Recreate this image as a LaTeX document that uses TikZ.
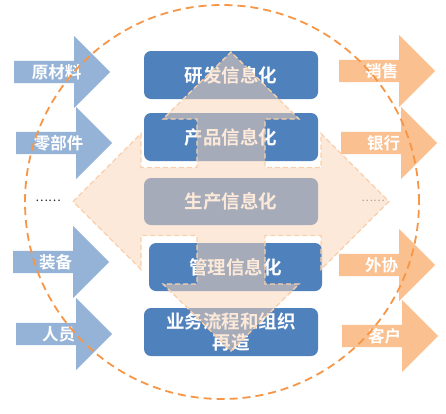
\documentclass[tikz,border=0pt]{standalone}
\usepackage{fontspec}
\newfontfamily\cjk{Noto Sans CJK SC}[BoldFont={Noto Sans CJK SC Bold}]
\usepackage{tikz}
\definecolor{infoblue}{RGB}{79,129,189}
\definecolor{inblue}{RGB}{149,179,215}
\definecolor{outorange}{RGB}{250,192,144}
\definecolor{ringorange}{RGB}{247,150,70}
\definecolor{crosspeach}{RGB}{251,213,181}
\definecolor{crossline}{RGB}{250,208,172}
\usetikzlibrary{
  arrows.meta,
  shapes.arrows
}

\begin{document}
\begin{tikzpicture}[
    x=1pt, y=-1pt,
    infobox/.style={fill=infoblue, rounded corners=7pt, minimum width=174pt,
      minimum height=48pt, inner sep=0pt, align=center, text=white,
      font=\cjk\bfseries\fontsize{18.5}{21.5}\selectfont},
    sidearrow/.style={single arrow, single arrow head extend=18pt,
      minimum height=96pt, minimum width=72pt, inner sep=0pt, anchor=tail,
      text=white, font=\cjk\bfseries\fontsize{16.5}{20}\selectfont},
    inarrow/.style={sidearrow, fill=inblue},
    outarrow/.style={sidearrow, fill=outorange}
  ]
  \useasboundingbox[fill=white] (0,0) rectangle (446,413);

  %% --- Inputs ---
  \node[inarrow]  (raw)   at (14,72)  {原材料};
  \node[inarrow]  (parts) at (16,143) {零部件};
  \node[inarrow]  (equip) at (13,262) {装备};
  \node[inarrow]  (staff) at (16,334) {人员};
  \node[font=\cjk\fontsize{12}{12}\selectfont, text=black!85] (indots) at (48,201) {……};

  %% --- Outputs ---
  \node[outarrow] (sales) at (339,71)  {销售};
  \node[outarrow] (bank)  at (341,143) {银行};
  \node[outarrow] (coop)  at (339,265) {外协};
  \node[outarrow] (cust)  at (342,336) {客户};
  \node[font=\cjk\fontsize{11}{11}\selectfont, text=black!60] (outdots) at (373,201) {……};

  %% --- Information layers ---
  \node[infobox] (rd)   at (231,75)    {研发信息化};
  \node[infobox] (prod) at (231,137)   {产品信息化};
  \node[infobox, minimum height=47pt] (mfg) at (231,201.5) {生产信息化};
  \node[infobox, minimum width=173pt] (mgmt) at (235.5,267) {管理信息化};
  \node[infobox] (bpr)  at (231,332)   {业务流程和组织\\再造};

  %% --- Four-way arrow ---
  \draw[fill=crosspeach, fill opacity=0.5, draw=crossline, line width=1.3pt,
        dash pattern=on 5pt off 3pt]
    (73,201.5) -- (141,133.5) -- (141,167.5) -- (197,167.5) -- (197,119)
    -- (163,119) -- (231,52) -- (299,119) -- (265,119) -- (265,167.5)
    -- (321,167.5) -- (321,133.5) -- (389,201.5) -- (321,269.5)
    -- (321,235.5) -- (265,235.5) -- (265,284) -- (299,284) -- (231,351)
    -- (163,284) -- (197,284) -- (197,235.5) -- (141,235.5) -- (141,269.5)
    -- cycle;

  %% --- Enterprise boundary ---
  \draw[ringorange, line width=1.8pt, dash pattern=on 8pt off 5pt]
    (222,202) circle[radius=197pt];
\end{tikzpicture}
\end{document}
